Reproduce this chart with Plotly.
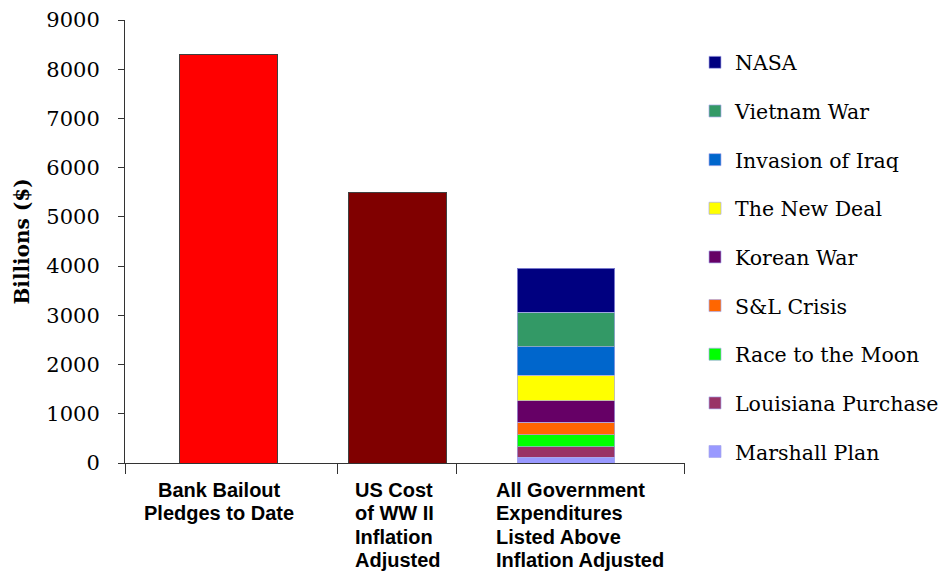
import plotly.graph_objects as go

# Category labels ("|" marks a line break)
bailout_label = "Bank Bailout|Pledges to Date"
ww2_label = "US Cost|of WW II|Inflation|Adjusted"
all_label = "All Government|Expenditures|Listed Above|Inflation Adjusted"
categories = [bailout_label, ww2_label, all_label]

# Totals for the two single bars (billions of dollars)
single_values = [8300, 5500]
single_colors = ["#FF0000", "#800000"]

# Components of the stacked bar, bottom to top (billions of dollars)
stack_names = ["Marshall Plan", "Louisiana Purchase", "Race to the Moon", "S&L Crisis",
               "Korean War", "The New Deal", "Invasion of Iraq", "Vietnam War", "NASA"]
stack_values = [115, 215, 240, 260, 435, 520, 580, 700, 895]
stack_colors = ["#9999FF", "#993366", "#00FF00", "#FF6600", "#660066",
                "#FFFF00", "#0066CC", "#339966", "#000080"]

y_ticks = [0, 1000, 2000, 3000, 4000, 5000, 6000, 7000, 8000, 9000]

serif = "DejaVu Serif"
sans = "Liberation Sans, Arial"

fig = go.Figure()

positions = list(range(len(categories)))
bar_width = 0.58

for i, (v, c) in enumerate(zip(single_values, single_colors)):
    fig.add_trace(go.Bar(
        x=[positions[i]], y=[v], width=bar_width,
        marker=dict(color=c, line=dict(color="#404040", width=1)),
        showlegend=False, hoverinfo="y",
    ))

# Stack from the bottom up; legend lists the top segment first
n = len(stack_names)
for k, (name, v, c) in enumerate(zip(stack_names, stack_values, stack_colors)):
    fig.add_trace(go.Bar(
        x=[positions[2]], y=[v], width=bar_width, name=name,
        legendgroup=name, legendrank=n - k,
        marker=dict(color=c, line=dict(color="rgba(170,170,235,0.7)", width=1)),
    ))

# Category labels, one line at a time for tight spacing
label_layout = [("center", -9.5), ("left", -44.5), ("left", -72.5)]
for idx, cat in enumerate(categories):
    anchor, shift = label_layout[idx]
    for j, line in enumerate(cat.split("|")):
        fig.add_annotation(
            x=positions[idx], xref="x", y=0, yref="paper",
            text=line, showarrow=False, xanchor=anchor, yanchor="middle",
            xshift=shift, yshift=-(27 + 23.3 * j),
            font=dict(family=sans, size=20, color="black", weight="bold"),
        )

# Separator ticks along the category axis
unit = 168.75
x_lo = -(228.5 - 125) / unit
x_hi = x_lo + (685 - 125) / unit
sep_ticks = [x_lo + 0.001, (337 - 228.5) / unit, (456 - 228.5) / unit, x_hi - 0.001]

fig.update_layout(
    barmode="stack",
    width=941, height=571,
    margin=dict(l=125, r=256, t=20, b=108, autoexpand=False),
    paper_bgcolor="white", plot_bgcolor="white",
    showlegend=True,
    legend=dict(
        xref="container", yref="container",
        x=695 / 941, y=1 - 42.5 / 571, xanchor="left", yanchor="top",
        traceorder="grouped", tracegroupgap=19, maxheight=540,
        font=dict(family=serif, size=20.5, color="black"),
        bgcolor="rgba(0,0,0,0)",
    ),
    xaxis=dict(
        range=[x_lo, x_hi], tickmode="array", tickvals=sep_ticks,
        showticklabels=False, ticks="outside", ticklen=10, tickcolor="#333",
        showline=True, linecolor="#333", linewidth=1, automargin=False,
        showgrid=False, zeroline=False, fixedrange=True,
    ),
    yaxis=dict(
        range=[0, 9000], tickmode="array", tickvals=y_ticks,
        ticks="outside", ticklen=6, tickcolor="#333", ticklabelstandoff=14,
        showline=True, linecolor="#333", linewidth=1, automargin=False,
        showgrid=False, zeroline=False,
        tickfont=dict(family=serif, size=21, color="black"),
        title=dict(text="Billions ($)", standoff=11,
                   font=dict(family=serif, size=20, color="black", weight="bold")),
    ),
)

fig.write_html("out.html")
